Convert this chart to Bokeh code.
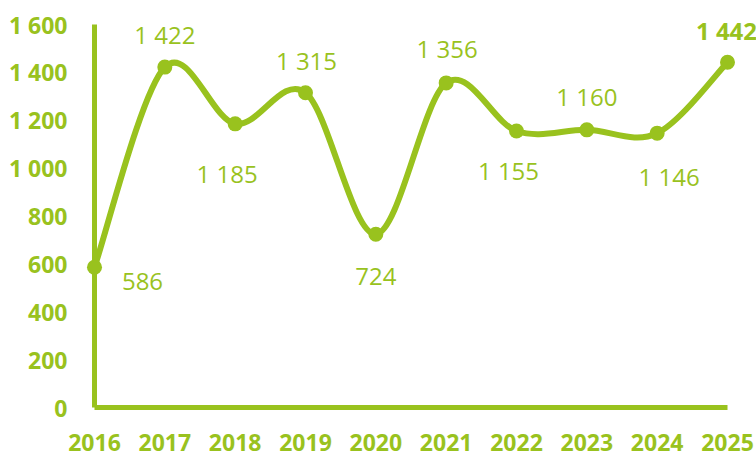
from bokeh.plotting import figure
from bokeh.models import ColumnDataSource, Range1d, LinearAxis, FixedTicker
from bokeh.core.properties import value
from bokeh.embed import file_html
from bokeh.resources import INLINE

years = [2016, 2017, 2018, 2019, 2020, 2021, 2022, 2023, 2024, 2025]
values = [586, 1422, 1185, 1315, 724, 1356, 1155, 1160, 1146, 1442]
value_labels = ["586", "1 422", "1 185", "1 315", "724", "1 356", "1 155", "1 160", "1 146", "1 442"]
y_ticks = [0, 200, 400, 600, 800, 1000, 1200, 1400, 1600]
y_tick_labels = ["0", "200", "400", "600", "800", "1 000", "1 200", "1 400", "1 600"]
x_tick_labels = [str(y) for y in years]

# label placement (screen px, style only)
lab_dx = [48, 0, -8, 1, 0, 1, -8, 0, 12, -1]
lab_dy = [14, -33, 50, -32, 42, -34, 39, -33, 43, -32]

GREEN = "#99C21E"
W, H = 756, 457
L, R, T, B = 94, 727, 24, 407

xs = (R - L) / (years[-1] - years[0])
ys = (B - T) / (y_ticks[-1] - y_ticks[0])
x_range = Range1d(years[0] - L / xs, years[-1] + (W - R) / xs)
y_range = Range1d(y_ticks[0] - (H - B) / ys, y_ticks[-1] + T / ys)

p = figure(width=W, height=H, x_range=x_range, y_range=y_range,
           output_backend="svg", toolbar_location=None,
           x_axis_type=None, y_axis_type=None,
           min_border=0, outline_line_color=None)
p.grid.visible = False
p.background_fill_color = "white"
p.border_fill_color = "white"

# axes fixed at data locations
xaxis = LinearAxis(fixed_location=0, bounds=(years[0], years[-1]))
xaxis.ticker = FixedTicker(ticks=years)
xaxis.major_label_overrides = {y: s for y, s in zip(years, x_tick_labels)}
yaxis = LinearAxis(fixed_location=years[0], bounds=(y_ticks[0], y_ticks[-1]))
yaxis.ticker = FixedTicker(ticks=y_ticks)
yaxis.major_label_overrides = {t: s for t, s in zip(y_ticks, y_tick_labels)}
for ax in (xaxis, yaxis):
    ax.axis_line_color = GREEN
    ax.axis_line_width = 5
    ax.major_tick_line_color = None
    ax.minor_tick_line_color = None
    ax.major_tick_out = 0
    ax.major_tick_in = 0
    ax.major_label_text_color = GREEN
    ax.major_label_text_font = "Open Sans"
    ax.major_label_text_font_style = "bold"
xaxis.major_label_text_font_size = "23px"
xaxis.major_label_standoff = 26
yaxis.major_label_text_font_size = "23px"
yaxis.major_label_standoff = 27
p.add_layout(xaxis, "below")
p.add_layout(yaxis, "left")

# smooth curve: Catmull-Rom bezier segments through the data
n = len(years)
x0, y0, x1, y1, cx0, cy0, cx1, cy1 = [], [], [], [], [], [], [], []
for i in range(n - 1):
    pm = i - 1 if i > 0 else i
    pp = i + 2 if i + 2 < n else i + 1
    x0.append(years[i]); y0.append(values[i])
    x1.append(years[i + 1]); y1.append(values[i + 1])
    cx0.append(years[i] + (years[i + 1] - years[pm]) / 6)
    cy0.append(values[i] + (values[i + 1] - values[pm]) / 6)
    cx1.append(years[i + 1] - (years[pp] - years[i]) / 6)
    cy1.append(values[i + 1] - (values[pp] - values[i]) / 6)
p.bezier(x0=x0, y0=y0, x1=x1, y1=y1, cx0=cx0, cy0=cy0, cx1=cx1, cy1=cy1,
         line_color=GREEN, line_width=6, line_cap="round")

src = ColumnDataSource(dict(x=years, y=values, t=value_labels, dx=lab_dx, dy=lab_dy,
                            fs=["normal"] * (n - 1) + ["bold"]))
p.scatter("x", "y", source=src, size=15, fill_color=GREEN, line_color=None)
p.text("x", "y", text="t", source=src, x_offset="dx", y_offset="dy",
       text_align="center", text_baseline="middle", text_color=GREEN,
       text_font=value("Open Sans"), text_font_size="24px", text_font_style="fs")

open("out.html", "w").write(file_html(p, INLINE))
